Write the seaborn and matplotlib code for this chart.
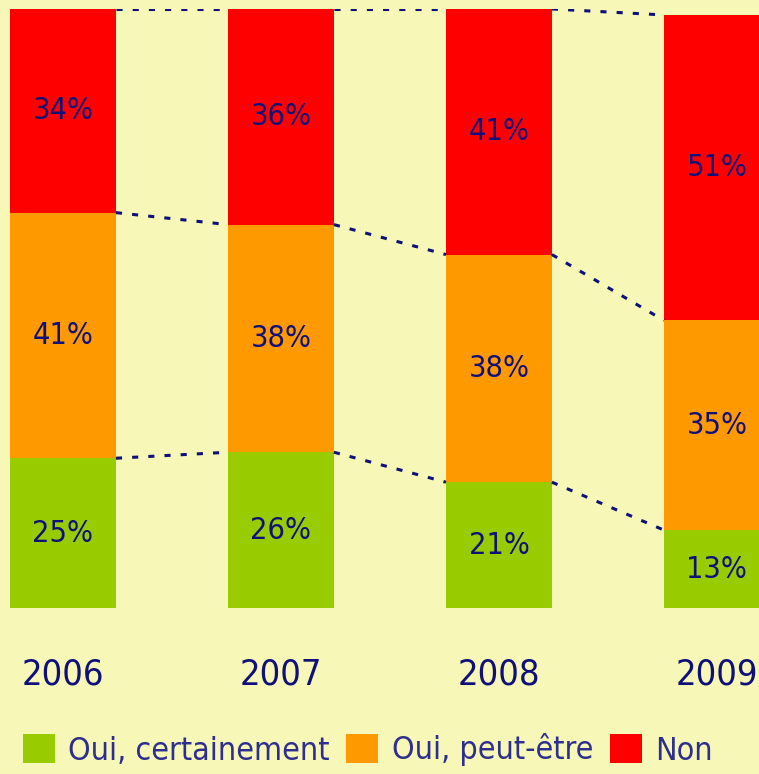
import matplotlib
matplotlib.use("Agg")
import matplotlib.pyplot as plt
from matplotlib.patches import Patch
import seaborn as sns
import pandas as pd
import numpy as np

# data
years = ["2006", "2007", "2008", "2009"]
oui_certainement = [25, 26, 21, 13]
oui_peut_etre = [41, 38, 38, 35]
non = [34, 36, 41, 51]
series_names = ["Oui, certainement", "Oui, peut-être", "Non"]

# style
bg = "#F7F7B8"
colors = ["#99CC00", "#FF9900", "#FF0000"]
navy = "#10107A"
legend_navy = "#2E2E8F"

sns.set_style("white")
# reference uses a condensed face
plt.rcParams['font.family'] = ['DejaVu Sans']
plt.rcParams['font.stretch'] = 'condensed'

df = pd.DataFrame({
    "year": years,
    "green": oui_certainement,
    "orange": oui_peut_etre,
    "red": non,
})
df["cum_green"] = df["green"]
df["cum_orange"] = df["green"] + df["orange"]
df["cum_red"] = df["cum_orange"] + df["red"]

fig = plt.figure(figsize=(7.59, 7.74), dpi=100, facecolor=bg)
ax = fig.add_axes([0, 0.2145, 1, 0.7739])
ax.set_facecolor(bg)

bar_w = 0.486
# stacked bars: cumulative totals drawn back to front
for col, c in zip(["cum_red", "cum_orange", "cum_green"], colors[::-1]):
    sns.barplot(data=df, x="year", y=col, color=c, width=bar_w,
                saturation=1, ax=ax, linewidth=0)

# dotted connectors between bars
for col in ["cum_green", "cum_orange", "cum_red"]:
    vals = df[col].values
    for i in range(len(vals) - 1):
        ax.plot([i + bar_w / 2, i + 1 - bar_w / 2], [vals[i], vals[i + 1]],
                color=navy, lw=2.2, linestyle=(0, (2, 3.3)))

# value labels in segment centres
for i in range(len(df)):
    bottoms = [0, df["cum_green"][i], df["cum_orange"][i]]
    heights = [df["green"][i], df["orange"][i], df["red"][i]]
    for b, h in zip(bottoms, heights):
        ax.text(i, b + h / 2, f"{h}%", ha="center", va="center",
                fontsize=22, color=navy)

ax.set_xlim(-0.289, 3.193)
ax.set_ylim(0, 100)
ax.set_xlabel("")
ax.set_ylabel("")
ax.set_yticks([])
sns.despine(ax=ax, left=True, bottom=True)
ax.tick_params(axis="x", length=0, pad=36, labelsize=26, labelcolor=navy)

handles = [Patch(facecolor=c, edgecolor="none") for c in colors]
fig.legend(handles, series_names, loc="center left",
           bbox_to_anchor=(23 / 759, 1 - 750 / 774), ncol=3, frameon=False,
           fontsize=23, labelcolor=legend_navy, borderaxespad=0, borderpad=0,
           handlelength=1.0, handleheight=1.0, handletextpad=0.41,
           columnspacing=0.53)

fig.savefig("out.png", dpi=100, facecolor=bg)
